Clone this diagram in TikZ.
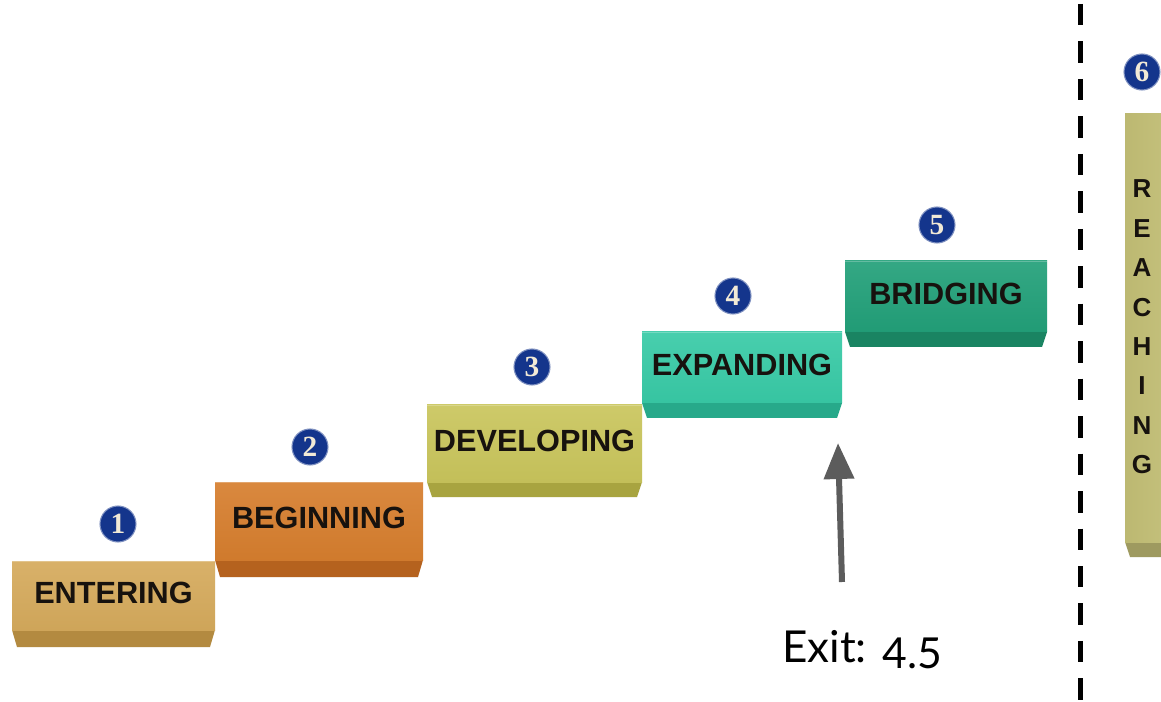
\documentclass[tikz,border=0pt]{standalone}
\usepackage{fontspec}
\setmainfont{Liberation Sans}
\newfontfamily\numfont{Liberation Serif}
\newfontfamily\latofont{Lato}
\usetikzlibrary{arrows.meta}
\definecolor{c1f}{HTML}{D5AA5C}\definecolor{c1b}{HTML}{B38A40}
\definecolor{c2f}{HTML}{D67E2E}\definecolor{c2b}{HTML}{B5621E}
\definecolor{c3f}{HTML}{C9C55C}\definecolor{c3b}{HTML}{A8A440}
\definecolor{c4f}{HTML}{38CAA6}\definecolor{c4b}{HTML}{27A98A}
\definecolor{c5f}{HTML}{22A079}\definecolor{c5b}{HTML}{1A8462}
\definecolor{c6f}{HTML}{C4C076}\definecolor{c6b}{HTML}{9E9A60}
\definecolor{numblue}{HTML}{14358C}
\definecolor{numtext}{HTML}{F2EAD6}
\definecolor{textdark}{HTML}{17120E}
\definecolor{arrowgray}{HTML}{5C5C5C}
\newcommand\stair[9]{%
  \fill[#8] (#2,#5) -- (#3,#5) -- (#3-5,#6) -- (#2+5,#6) -- cycle;
  \shade[top color=#7!92!white, bottom color=#7!97!black] (#2,#4) rectangle (#3,#5);
  \draw[#7!70!white, line width=0.6pt] (#2,#4) -- (#3,#4);
  \node[steplabel] (#1) at ({(#2+#3)/2},{(#4+#5)/2-3}) {#9};
}
\begin{document}
\begin{tikzpicture}[x=0.75pt,y=-0.75pt,
  steplabel/.style={inner sep=0pt, text=textdark, font=\bfseries\fontsize{23}{23}\selectfont},
  numcirc/.style={circle, fill=numblue, draw=numblue!55!white, line width=0.8pt,
    minimum size=27pt, inner sep=0pt, text=numtext,
    font=\numfont\bfseries\fontsize{22}{22}\selectfont},
  exitlabel/.style={inner sep=0pt, anchor=base west, text=black, font=\latofont\fontsize{33}{33}\selectfont}]
\clip (0,0) rectangle (1161,702);
\fill[white] (0,0) rectangle (1161,702);
\stair{s1}{12}{215}{561}{630}{647}{c1f}{c1b}{ENTERING}
\stair{s2}{215}{423}{482}{560}{577}{c2f}{c2b}{BEGINNING}
\stair{s3}{427}{642}{405}{482}{497}{c3f}{c3b}{DEVELOPING}
\stair{s4}{642}{842}{332}{403}{418}{c4f}{c4b}{EXPANDING}
\stair{s5}{845}{1047}{261}{332}{347}{c5f}{c5b}{BRIDGING}
% step 6 (vertical)
\fill[c6b] (1125,542) -- (1200,542) -- (1200,557) -- (1130,557) -- cycle;
\shade[left color=c6f!96!black, right color=c6f!90!white] (1125,114) rectangle (1200,542);
\node[inner sep=0pt, text=textdark, align=center,
  font=\bfseries\fontsize{19.5}{29.55}\selectfont] (s6) at (1142,327)
  {R\\E\\A\\C\\H\\I\\N\\G};
% numbers
\node[numcirc] (n1) at (118,524) {1};
\node[numcirc] (n2) at (310,447) {2};
\node[numcirc] (n3) at (532,367) {3};
\node[numcirc] (n4) at (733,296) {4};
\node[numcirc] (n5) at (937,225) {5};
\node[numcirc] (n6) at (1142,72) {6};
% dashed divider
\coordinate (dtop) at (1080.5,4);
\coordinate (dbot) at (1080.5,702);
\draw[black, line width=3.75pt, dash pattern=on 16.1pt off 12pt] (dtop) -- (dbot);
% exit arrow
\coordinate (exitfoot) at (842,582);
\coordinate (exithead) at (838,443);
\draw[arrowgray, line width=4.5pt, -{Triangle[length=27pt, width=22pt]}] (exitfoot) -- (exithead);
\node[exitlabel] (exit) at (782,662) {Exit:};
\node[exitlabel, font=\latofont\fontsize{32}{32}\selectfont] (exitval) at (882,668) {4.5};
\end{tikzpicture}
\end{document}
